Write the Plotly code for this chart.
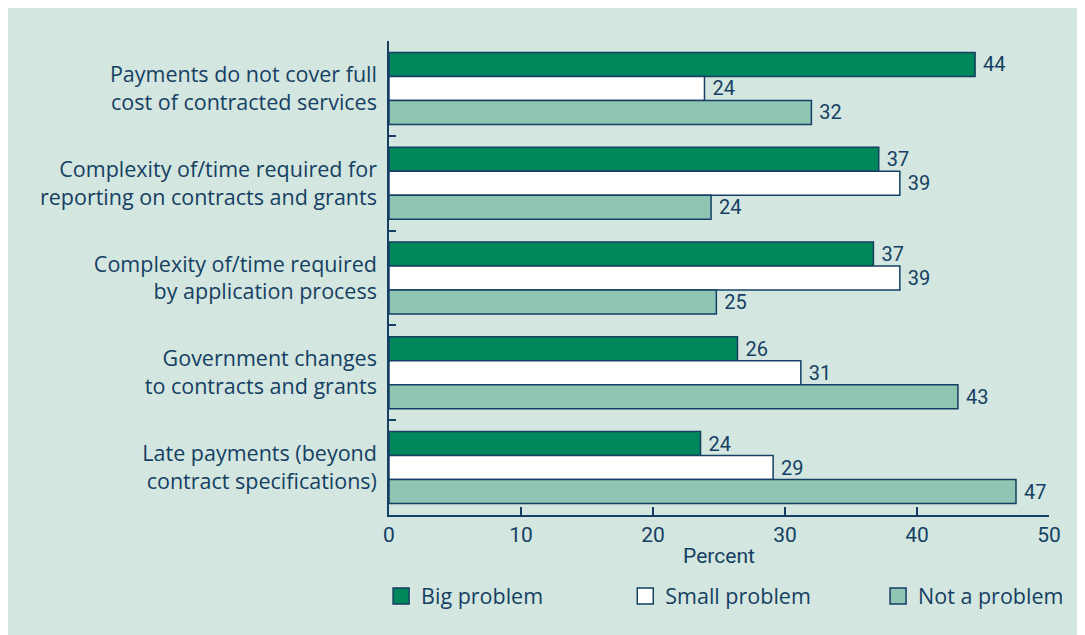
import plotly.graph_objects as go

categories = [
    "Payments do not cover full<br>cost of contracted services",
    "Complexity of/time required for<br>reporting on contracts and grants",
    "Complexity of/time required<br>by application process",
    "Government changes<br>to contracts and grants",
    "Late payments (beyond<br>contract specifications)",
]
series_names = ["Big problem", "Small problem", "Not a problem"]
big_values = [44.4, 37.1, 36.7, 26.4, 23.6]
small_values = [23.9, 38.7, 38.7, 31.2, 29.1]
not_values = [32.0, 24.4, 24.8, 43.1, 47.5]
big_labels = [44, 37, 37, 26, 24]
small_labels = [24, 39, 39, 31, 29]
not_labels = [32, 24, 25, 43, 47]
x_ticks = [0, 10, 20, 30, 40, 50]

NAVY = "#153f63"
BG = "#d3e6df"
colors = ["#00875b", "#ffffff", "#8fc5b2"]
legend_ids = ["legend", "legend2", "legend3"]
legend_x = [-0.012, 0.358, 0.741]

fig = go.Figure()
for name, vals, labs, col in zip(series_names,
                                 [big_values, small_values, not_values],
                                 [big_labels, small_labels, not_labels],
                                 colors):
    fig.add_trace(go.Bar(
        y=categories, x=vals, name=name, orientation="h",
        marker=dict(color=col, line=dict(color=NAVY, width=1.5)),
        text=[" " + str(v) for v in labs], textposition="outside",
        textfont=dict(family="Roboto", size=20, color=NAVY),
        cliponaxis=False, showlegend=False,
    ))

# legend entries with larger square symbols
for name, col, lid in zip(series_names, colors, legend_ids):
    fig.add_trace(go.Scatter(
        x=[None], y=[None], mode="markers", name=name, legend=lid,
        marker=dict(symbol="square", size=16, color=col, line=dict(color=NAVY, width=1.5)),
        showlegend=True,
    ))

legend_common = dict(orientation="h", y=-0.171, yanchor="middle", xanchor="left",
                     font=dict(family="Open Sans", size=21.5, color=NAVY),
                     bgcolor="rgba(0,0,0,0)")
layout_legends = {lid: dict(x=lx, **legend_common) for lid, lx in zip(legend_ids, legend_x)}

fig.update_layout(
    width=1085, height=635,
    margin=dict(l=381, r=44, t=33, b=128),
    paper_bgcolor=BG,
    plot_bgcolor=BG,
    barmode="group", bargap=0.24, bargroupgap=0,
    font=dict(family="Open Sans", color=NAVY, size=21.5),
    **layout_legends,
)
fig.update_xaxes(
    range=[0, 50], tickvals=x_ticks, ticks="inside", ticklen=8, tickwidth=1.5,
    tickcolor=NAVY, showline=True, linecolor=NAVY, linewidth=1.5,
    showgrid=False, zeroline=False,
    tickfont=dict(family="Roboto", size=21, color=NAVY),
    title=dict(text="Percent", font=dict(family="Roboto", size=21, color=NAVY), standoff=2),
)
fig.update_yaxes(
    autorange="reversed", ticks="inside", tickson="boundaries", ticklen=7,
    tickwidth=1.5, tickcolor=NAVY, showline=True, linecolor=NAVY, linewidth=1.5,
    showgrid=False, ticklabelstandoff=6,
    tickfont=dict(family="Open Sans", size=21.5, color=NAVY),
)
fig.write_html("out.html")
